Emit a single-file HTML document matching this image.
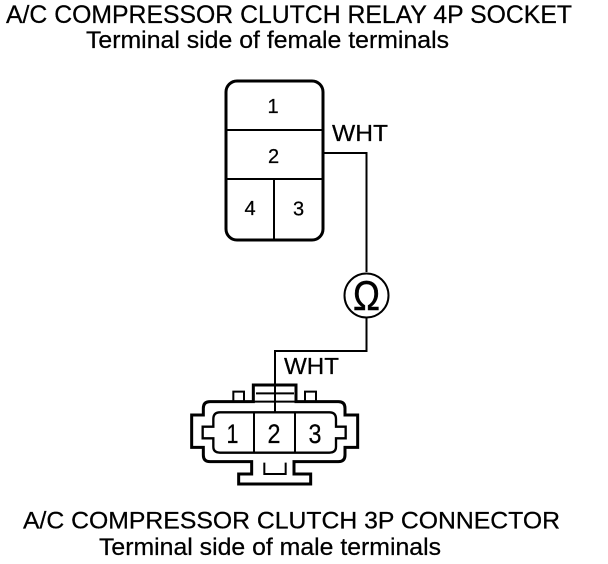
<!DOCTYPE html>
<html>
<head>
<meta charset="utf-8">
<style>
html,body{margin:0;padding:0;background:#fff;width:608px;height:564px;overflow:hidden}
svg{display:block}
text{font-family:"Liberation Sans",sans-serif;fill:#000;stroke:#000;stroke-width:.25px}
</style>
</head>
<body>
<svg width="608" height="564" viewBox="0 0 608 564" xmlns="http://www.w3.org/2000/svg">
<text x="6" y="23" font-size="25" textLength="566" lengthAdjust="spacingAndGlyphs">A/C COMPRESSOR CLUTCH RELAY 4P SOCKET</text>
<text x="86" y="48" font-size="24.500" textLength="363" lengthAdjust="spacingAndGlyphs">Terminal side of female terminals</text>
<text x="23" y="528.500" font-size="24.500" textLength="537" lengthAdjust="spacingAndGlyphs">A/C COMPRESSOR CLUTCH 3P CONNECTOR</text>
<text x="99" y="555" font-size="24.500" textLength="342" lengthAdjust="spacingAndGlyphs">Terminal side of male terminals</text>

<!-- relay socket -->
<rect x="226" y="81" width="97" height="159" rx="11" ry="11" fill="none" stroke="#000" stroke-width="3"/>
<g stroke="#000" stroke-width="2" fill="none">
<path d="M226 130H323M226 179H323M274 179V240"/>
<path d="M324 153H366.500V272M366.500 318V351H275V412"/>
<circle cx="366.500" cy="295.500" r="22"/>
</g>
<text x="273" y="113" font-size="20" text-anchor="middle">1</text>
<text x="273.500" y="163" font-size="20" text-anchor="middle">2</text>
<text x="250" y="215" font-size="20" text-anchor="middle">4</text>
<text x="298.500" y="215.500" font-size="20" text-anchor="middle">3</text>
<text x="332" y="141" font-size="23.500" textLength="56" lengthAdjust="spacingAndGlyphs">WHT</text>
<text x="284" y="374" font-size="23.500" textLength="55" lengthAdjust="spacingAndGlyphs">WHT</text>
<text x="353" y="310" font-size="42" textLength="27" lengthAdjust="spacingAndGlyphs" style="stroke-width:.5px">&#937;</text>

<!-- 3P connector -->
<g transform="translate(170 370) scale(0.33333)" fill="none" stroke="#000">
<path stroke-width="9" d="M100 135H65V232H100V255Q100 275 120 275H245V312H206V342H422V312H372V275H505Q525 275 525 255V232H563V135H525V115Q525 95 505 95H378V45H250V95H120Q100 95 100 115Z"/>
<path stroke-width="7" d="M150 127H478Q498 127 498 147V170H527V205H498V230Q498 248 478 248H150Q130 248 130 230V205H98V170H130V147Q130 127 150 127Z"/>
<path stroke-width="6" d="M252 127V248M375 127V248M258 70H372M283 278V312H347V278M250 95H378"/>
<path stroke-width="6" d="M190 95V65H222V95M405 95V65H438V95"/>
</g>
<text x="232.500" y="443" font-size="27" text-anchor="middle" textLength="12" lengthAdjust="spacingAndGlyphs">1</text>
<text x="274" y="443" font-size="27" text-anchor="middle" textLength="13" lengthAdjust="spacingAndGlyphs">2</text>
<text x="315" y="443" font-size="27" text-anchor="middle" textLength="13" lengthAdjust="spacingAndGlyphs">3</text>
</svg>
</body>
</html>
